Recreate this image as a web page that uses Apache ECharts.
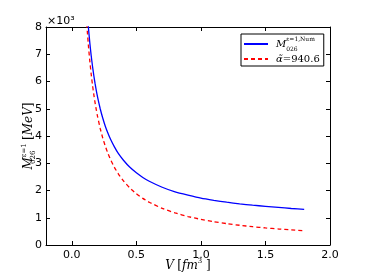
<!DOCTYPE html>
<html><head><meta charset="utf-8">
<script src="https://cdn.jsdelivr.net/npm/echarts@6/dist/echarts.min.js"></script>
<style>html,body{margin:0;padding:0;background:#fff}#c{width:367px;height:273px}</style>
</head><body><div id="c"></div>
<script>
// Volume V [fm^3]
const volumes = [0.10,0.11,0.12,0.13,0.14,0.15,0.16,0.17,0.18,0.19,0.20,0.22,0.24,0.26,0.28,0.30,0.33,0.36,0.40,0.45,0.50,0.55,0.60,0.70,0.80,0.90,1.00,1.10,1.20,1.30,1.40,1.50,1.60,1.70,1.80];
// Numerical mass (x10^3 MeV), blue solid
const numericalMass = [10.03,9.19,8.49,7.90,7.39,6.95,6.57,6.23,5.93,5.66,5.42,5.00,4.65,4.35,4.10,3.88,3.60,3.36,3.11,2.85,2.65,2.48,2.34,2.12,1.95,1.83,1.72,1.64,1.57,1.51,1.46,1.42,1.38,1.34,1.31];
// Fitted curve alpha~=940.6 (x10^3 MeV), red dashed
const fittedMass = [9.406,8.551,7.838,7.235,6.719,6.271,5.879,5.533,5.226,4.951,4.703,4.275,3.919,3.618,3.359,3.135,2.850,2.613,2.352,2.090,1.881,1.710,1.568,1.344,1.176,1.045,0.941,0.855,0.784,0.724,0.672,0.627,0.588,0.553,0.523];
const xTickValues = [0, 0.5, 1.0, 1.5, 2.0];
const xTickLabels = ['0.0', '0.5', '1.0', '1.5', '2.0'];
const yTickValues = [0,1,2,3,4,5,6,7,8];
const yTickLabels = ['0','1','2','3','4','5','6','7','8'];

const pair = (xs, ys) => xs.map((x, i) => [x, ys[i]]);
const chart = echarts.init(document.getElementById('c'), null, {renderer: 'canvas'});
const tickFont = {fontFamily: 'DejaVu Sans', fontSize: 11, color: '#000'};
const serif = 'DejaVu Serif';
const xLab = v => { const i = xTickValues.findIndex(t => Math.abs(t - v) < 1e-6); return i >= 0 ? xTickLabels[i] : ''; };
const yLab = v => { const i = yTickValues.findIndex(t => Math.abs(t - v) < 1e-6); return i >= 0 ? yTickLabels[i] : ''; };
const line = {show: true, onZero: false, lineStyle: {color: '#000', width: 1}};
const mkTick = vals => ({show: true, inside: true, length: 4, customValues: vals, lineStyle: {color: '#000', width: 1}});
const richBase = (size, sm) => ({
  i: {fontFamily: serif, fontStyle: 'italic', fontSize: size, color: '#000', lineHeight: 16},
  t: {fontFamily: serif, fontSize: size, color: '#000', lineHeight: 16},
  p: {fontFamily: serif, fontSize: sm, color: '#000', verticalAlign: 'top', lineHeight: 8},
  b: {fontFamily: serif, fontSize: sm, color: '#000', verticalAlign: 'bottom', lineHeight: 8, width: 0}
});
chart.setOption({
  animation: false,
  backgroundColor: '#fff',
  grid: {left: 46, right: 37, top: 27, bottom: 28, outerBoundsMode: 'none', containLabel: false},
  xAxis: [
    {type: 'value', min: -0.2, max: 2.0, interval: 0.1, position: 'bottom',
      axisLine: line, axisTick: mkTick(xTickValues), splitLine: {show: false},
      axisLabel: Object.assign({formatter: xLab, margin: 5, customValues: xTickValues}, tickFont),
      name: '{i|V} {t|[}{i|fm}{p|3}{t| ]}', nameLocation: 'middle', nameGap: 13, nameMoveOverlap: false,
      nameTextStyle: {rich: richBase(12, 7)}},
    {type: 'value', min: -0.2, max: 2.0, interval: 0.1, position: 'top',
      axisLine: line, axisTick: mkTick(xTickValues), splitLine: {show: false}, axisLabel: {show: false}}
  ],
  yAxis: [
    {type: 'value', min: 0, max: 8, interval: 1, position: 'left',
      axisLine: line, axisTick: mkTick(yTickValues), splitLine: {show: false},
      axisLabel: Object.assign({formatter: yLab, margin: 4}, tickFont),
      name: '{i|M}{b|026}{p|ε=1} {t|[}{i|MeV}{t|]}', nameLocation: 'middle', nameGap: 9, nameRotate: 90, nameMoveOverlap: false,
      nameTextStyle: {rich: richBase(12, 7)}},
    {type: 'value', min: 0, max: 8, interval: 1, position: 'right',
      axisLine: line, axisTick: mkTick(yTickValues), splitLine: {show: false}, axisLabel: {show: false}}
  ],
  legend: {
    orient: 'vertical', left: 241, top: 34,
    backgroundColor: '#fff', borderColor: '#000', borderWidth: 1, borderRadius: 0,
    padding: [2, 4, 2, 2], itemGap: 2, itemWidth: 24, itemHeight: 10,
    itemStyle: {opacity: 0},
    textStyle: {padding: [0, 0, 0, 3], rich: richBase(10, 6)},
    formatter: n => n === 'num' ? '{i|M}{b|026}{p|ε=1,Num}' : '{i|α̃}{t|=940.6}',
    data: ['num', 'fit']
  },
  graphic: [{type: 'text', left: 47, top: 16, style: {text: '×10³', fontFamily: 'DejaVu Sans', fontSize: 11, fill: '#000'}}],
  series: [
    {name: 'num', type: 'line', data: pair(volumes, numericalMass), showSymbol: false, symbol: 'none',
      smooth: 0.15, clip: true,
      lineStyle: {color: '#0000ff', width: 1.3}, itemStyle: {color: '#0000ff'}},
    {name: 'fit', type: 'line', data: pair(volumes, fittedMass), showSymbol: false, symbol: 'none',
      smooth: 0.15, clip: true,
      lineStyle: {color: '#ff0000', width: 1.3, type: [4, 3]}, itemStyle: {color: '#ff0000'}}
  ]
});
</script></body></html>
